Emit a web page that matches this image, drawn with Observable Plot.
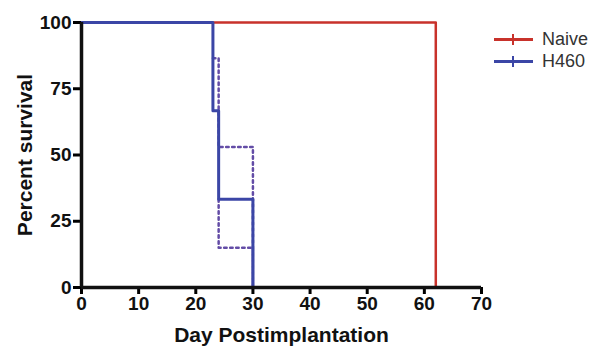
<!DOCTYPE html>
<html><head><meta charset="utf-8">
<script src="https://cdn.jsdelivr.net/npm/d3@7"></script>
<script src="https://cdn.jsdelivr.net/npm/@observablehq/plot@0.6"></script>
<style>
body{margin:0;background:#fff;font-family:"Liberation Sans",Arial,sans-serif;}
#wrap{position:relative;width:592px;height:348px;}
.leg{position:absolute;left:494px;display:flex;align-items:center;font-size:18px;color:#333;}
.leg .ln{position:relative;width:39px;height:3px;margin-right:9px;}
.leg .ln i{position:absolute;left:18px;top:-4px;width:2px;height:11px;}
</style></head>
<body><div id="wrap"></div>
<script>
const naiveDays = [0, 62];
const naiveSurv = [100, 0];
const h460Days = [0, 23, 24, 30];
const h460Surv = [100, 66.7, 33.3, 0];
const ciUpperDays = [23, 24, 30];
const ciUpperSurv = [86.5, 53, 0];
const ciLowerDays = [24, 24, 30];
const ciLowerSurv = [33.3, 15, 0];
const xTicks = [0, 10, 20, 30, 40, 50, 60, 70];
const yTicks = [0, 25, 50, 75, 100];
const seriesNames = ["Naive", "H460"];
const seriesColors = ["#c8322b", "#3b46a6"];

const toRows = (d, s) => d.map((x, i) => ({x, y: s[i]}));

const chart = Plot.plot({
  width: 592, height: 348,
  marginLeft: 81, marginRight: 111, marginTop: 22, marginBottom: 61,
  x: {domain: [0, 70]},
  y: {domain: [0, 100]},
  style: {fontFamily: "Liberation Sans, Arial, sans-serif", color: "#111"},
  marks: [
    Plot.line(toRows(ciUpperDays, ciUpperSurv), {x: "x", y: "y", curve: "step-after", stroke: "#634ca6", strokeWidth: 2.5, strokeDasharray: "2.5,3.5"}),
    Plot.line(toRows(ciLowerDays, ciLowerSurv), {x: "x", y: "y", curve: "step-after", stroke: "#634ca6", strokeWidth: 2.5, strokeDasharray: "2.5,3.5"}),
    Plot.line(toRows(naiveDays, naiveSurv), {x: "x", y: "y", curve: "step-after", stroke: seriesColors[0], strokeWidth: 2.5}),
    Plot.line(toRows(h460Days, h460Surv), {x: "x", y: "y", curve: "step-after", stroke: seriesColors[1], strokeWidth: 3}),
    Plot.axisX({ticks: xTicks, tickSize: 7, tickPadding: 2, label: "Day Postimplantation", labelAnchor: "center", labelArrow: "none", labelOffset: 54}),
    Plot.axisY({ticks: yTicks, tickSize: 8, tickPadding: 2, label: "Percent survival", labelAnchor: "center", labelArrow: "none", labelOffset: 64}),
    Plot.ruleX([0], {strokeWidth: 3.5}),
    Plot.ruleY([0], {strokeWidth: 3.5})
  ]
});
const svg = d3.select(chart);
svg.selectAll("[aria-label='x-axis tick'] *, [aria-label='y-axis tick'] *").style("stroke-width", "3px").style("stroke", "#000");
svg.selectAll("[aria-label='x-axis tick'], [aria-label='y-axis tick']").style("stroke-width", "3px").style("stroke", "#000");
svg.selectAll("[aria-label='x-axis tick label'] text, [aria-label='y-axis tick label'] text")
  .style("font-size", "19px").style("font-weight", "bold").style("fill", "#111");
svg.selectAll("[aria-label='x-axis label'] text, [aria-label='y-axis label'] text")
  .style("font-size", "21px").style("font-weight", "bold").style("fill", "#111");
const wrap = document.getElementById("wrap");
wrap.appendChild(chart);
const tops = [29, 51];
seriesNames.forEach((n, i) => {
  const el = document.createElement("div");
  el.className = "leg";
  el.style.top = tops[i] + "px";
  el.innerHTML = `<span class="ln" style="background:${seriesColors[i]}"><i style="background:${seriesColors[i]}"></i></span><span>${n}</span>`;
  wrap.appendChild(el);
});
</script>
</body></html>
